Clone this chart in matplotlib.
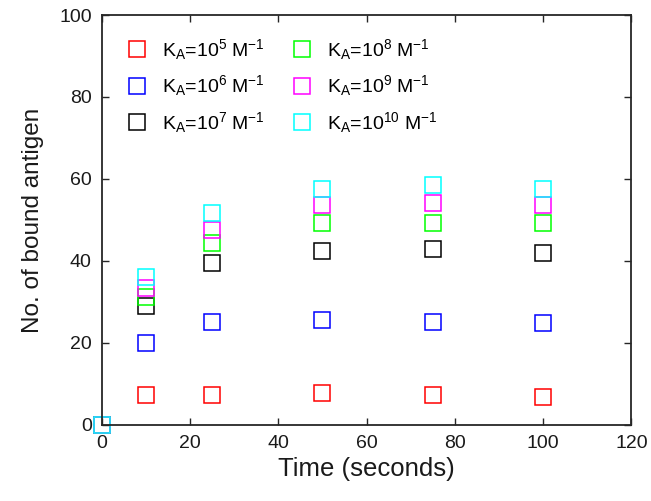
import numpy as np
import matplotlib
matplotlib.use("Agg")
import matplotlib.pyplot as plt

plt.rcParams['font.family'] = ['Liberation Sans', 'DejaVu Sans']
plt.rcParams['mathtext.default'] = 'regular'

time = [0, 10, 25, 50, 75, 100]
exps = [5, 6, 7, 8, 9, 10]
colors = ['red', 'blue', 'black', '#00ff00', 'magenta', 'cyan']
bound = {
    5:  [0, 7.2, 7.2, 7.7, 7.2, 6.7],
    6:  [0, 19.9, 25.2, 25.6, 25.2, 24.8],
    7:  [0, 29.1, 39.4, 42.4, 42.8, 41.9],
    8:  [0, 31.2, 44.3, 49.2, 49.2, 49.2],
    9:  [0, 33.4, 47.6, 53.6, 54.1, 53.6],
    10: [0, 36.0, 51.6, 57.6, 58.5, 57.5],
}

fig = plt.figure(figsize=(6.51, 5.01), dpi=100)
ax = fig.add_axes([0.156, 0.152, 0.814, 0.818])

for e, c in zip(exps, colors):
    ax.plot(time, bound[e], 's', markersize=11.5, markerfacecolor='none',
            markeredgecolor=c, markeredgewidth=1.1, clip_on=False,
            label='$K_A$=10$^{%d}$ M$^{-1}$' % e)

ax.set_xlim(0, 120)
ax.set_ylim(0, 100)
ax.set_xticks(np.arange(0, 121, 20))
ax.set_yticks(np.arange(0, 101, 20))
ax.tick_params(direction='in', top=True, right=True, length=5, width=1,
               labelsize=14, pad=7, colors='#262626', labelcolor='#1a1a1a')
for s in ax.spines.values():
    s.set_linewidth(1.3)
    s.set_color('#262626')

ax.set_xlabel('Time (seconds)', fontsize=18.5, labelpad=4, color='#1a1a1a')
ax.set_ylabel('No. of bound antigen', fontsize=17.5, labelpad=11, color='#1a1a1a')

ax.legend(loc='upper left', ncol=2, frameon=False, fontsize=14,
          bbox_to_anchor=(0.034, 0.966), handlelength=1.0, handletextpad=0.8,
          columnspacing=1.4, labelspacing=0.6, borderaxespad=0)

fig.savefig('out.png', dpi=100)
